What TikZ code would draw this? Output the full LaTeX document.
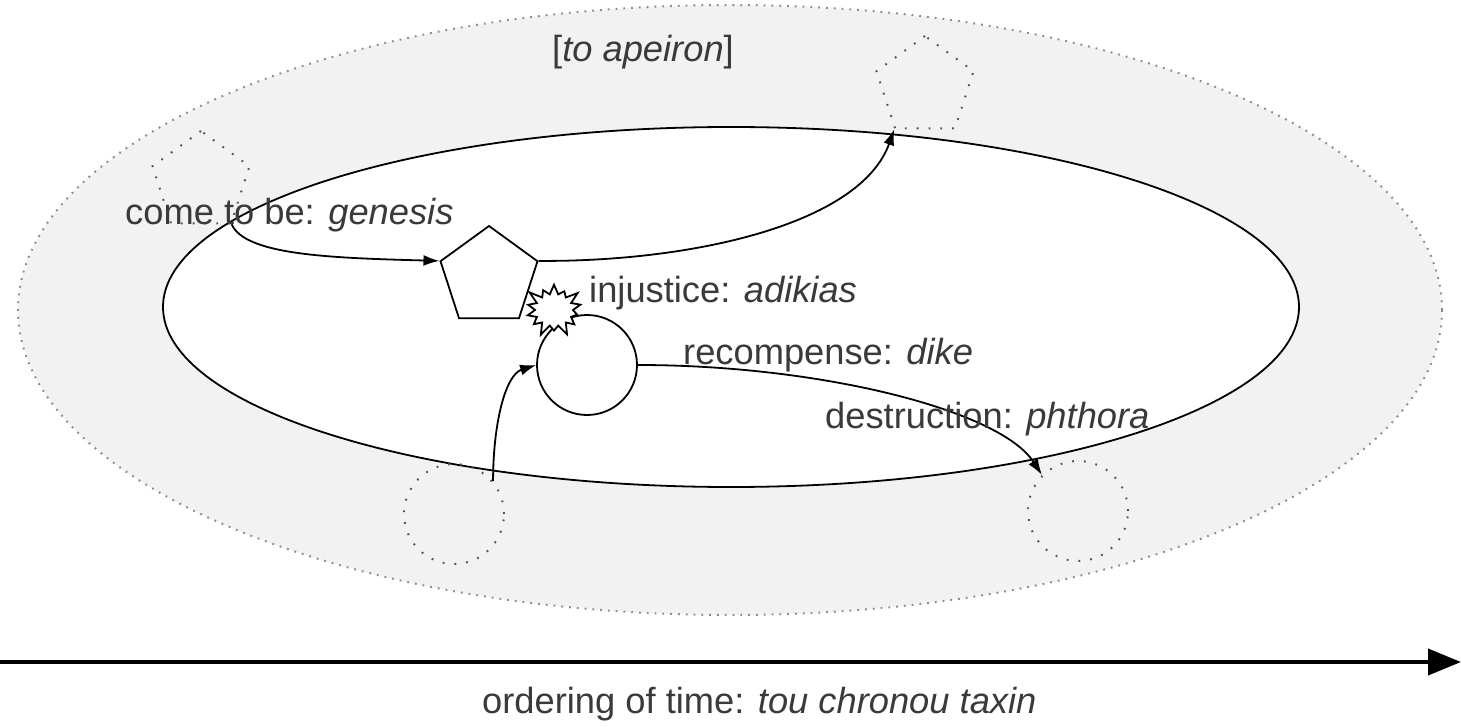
\documentclass[tikz,border=0pt]{standalone}
\usepackage{fontspec}
\setmainfont{Liberation Sans}
\usetikzlibrary{shapes.geometric,shapes.symbols,arrows.meta}
\definecolor{txt}{HTML}{3A3A3A}
\definecolor{outerfill}{HTML}{F2F2F2}
\definecolor{dotgray}{HTML}{555555}
\definecolor{outerdot}{HTML}{8C8C8C}
\begin{document}
\begin{tikzpicture}[x=1pt,y=-1pt,
  dotline/.style={draw=dotgray, line width=2pt, dash pattern=on 1.8pt off 10pt},
  pent/.style={regular polygon, regular polygon sides=5, minimum size=102pt, inner sep=0pt},
  circ/.style={circle, minimum size=100pt, inner sep=0pt},
  conn/.style={line width=1.8pt, -{Latex[length=16pt,width=11pt]}},
  solid shape/.style={draw=black, line width=1.8pt, fill=white},
  lbl/.style={text=txt, font=\fontsize{36.3}{44}\selectfont, inner sep=0pt, anchor=base west},
]
\useasboundingbox (0,0) rectangle (1461,727);
% outer and inner ellipses
\path[fill=outerfill, draw=outerdot, line width=2pt, dash pattern=on 1.8pt off 6pt] (730,310) ellipse [x radius=712, y radius=305];
\path[fill=white, draw=black, line width=1.8pt] (731,307) ellipse [x radius=568, y radius=180];
% dotted shapes
\node[pent, dotline] (D1) at (201,182) {};
\node[pent, dotline] (D2) at (925,87) {};
\node[circ, dotline] (C1) at (454,514) {};
\node[circ, dotline] (C2) at (1078,511) {};
% solid shapes
\node[pent, solid shape] (P) at (489,277) {};
\node[circ, solid shape] (C) at (587,365) {};
% connectors
\draw[conn] (D1.corner 4) .. controls (245,255) and (330,258) .. (P.corner 2);
\draw[conn] (P.corner 5) .. controls (690,262) and (860,225) .. (D2.corner 3);
\draw[conn] (C1.40) .. controls (493,425) and (505,375) .. (C.west);
\draw[conn] (C.east) .. controls (820,365) and (1000,410) .. (C2.135);
% starburst
\node[starburst, solid shape, minimum width=64pt, minimum height=58pt, starburst points=14, starburst point height=13pt, inner sep=0pt] (S) at (554,310) {};
% time arrow
\coordinate (T0) at (0,662);
\coordinate (T1) at (1461,662);
\draw[line width=4pt, -{Triangle[length=33pt,width=26pt]}] (T0) -- (T1);
% labels
\node[lbl] (apeiron) at (552,62) {[\textit{to apeiron}]};
\node[lbl] (genesis) at (125,225) {come to be: \textit{genesis}};
\node[lbl] (adikias) at (589,302) {injustice: \textit{adikias}};
\node[lbl] (dike) at (683,364) {recompense: \textit{dike}};
\node[lbl] (phthora) at (825,428) {destruction: \textit{phthora}};
\node[lbl] (taxin) at (482,713) {ordering of time: \textit{tou chronou taxin}};
\end{tikzpicture}
\end{document}
